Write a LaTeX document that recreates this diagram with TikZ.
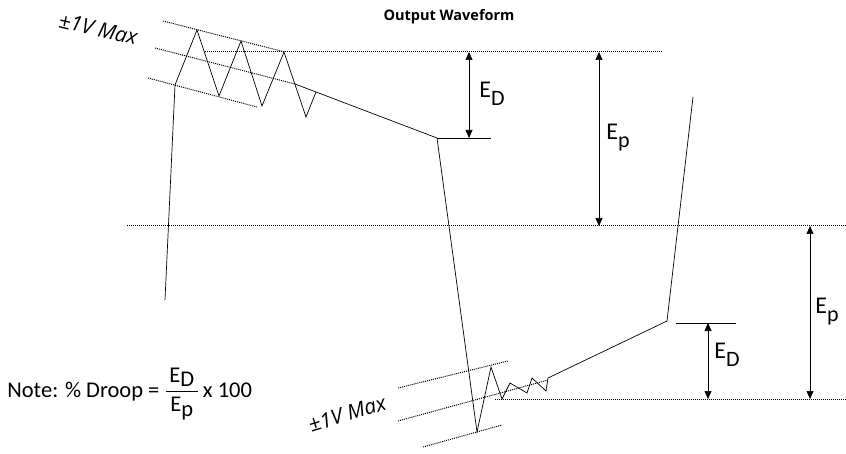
\documentclass[tikz,border=0pt]{standalone}
\usepackage{amsmath}
\usepackage{fontspec}
\setmainfont{Carlito}
\newfontfamily\titlefont{Open Sans}
\usetikzlibrary{arrows.meta}
\newcommand{\elab}[1]{{\fontsize{24}{24}\selectfont E\raisebox{-8pt}{\fontsize{22}{22}\selectfont #1}}}
\begin{document}
\begin{tikzpicture}[x=1pt, y=-1pt, line width=0.7pt,
    level/.style={densely dotted, line width=1pt},
    span/.style={{Triangle[length=8pt,width=7pt]}-{Triangle[length=8pt,width=7pt]}, line width=0.7pt},
    maxtxt/.style={font=\titlefont\itshape\fontsize{21}{21}\selectfont, inner sep=0pt}]
    \useasboundingbox (0,0) rectangle (846,454);
    \node[font=\titlefont\bfseries\fontsize{14.5}{14.5}\selectfont] (title) at (449,17) {Output Waveform};
    \coordinate (hiL) at (205,52);  \coordinate (hiR) at (663,52);
    \coordinate (midL) at (127,226); \coordinate (midR) at (846,226);
    \coordinate (loL) at (495,399);  \coordinate (loR) at (846,399);
    \draw[level] (hiL) -- (hiR);
    \draw[level] (midL) -- (midR);
    \draw[level] (loL) -- (loR);
    \begin{scope}[level]
        \draw (163,21) -- (285,52);
        \draw (155,48) -- (295,84);
        \draw (148,78) -- (257,107);
        \draw (398,388) -- (508,361);
        \draw (398,421) -- (548,380);
        \draw (423,447) -- (502,425);
    \end{scope}
    \draw (165,300) -- (175,85) -- (197,30) -- (219,96) -- (241,41) -- (262,106) -- (284,52) -- (306,117) -- (316,92);
    \draw (295,84) -- (437,138) coordinate (sag) -- (477,432) -- (491,367) -- (502,399) -- (510,383) -- (527,393) -- (532,378) -- (546,391) -- (548,378) -- (667,321) coordinate (rise) -- (693,97);
    \draw (sag) -- (491,138) coordinate (sagR);
    \draw (676,323) coordinate (riseL) -- (736,323);
    \coordinate (d1a) at (469,52);  \coordinate (d1b) at (469,138);
    \coordinate (p1a) at (599,52);  \coordinate (p1b) at (599,226);
    \coordinate (d2a) at (708,323); \coordinate (d2b) at (708,399);
    \coordinate (p2a) at (810,226); \coordinate (p2b) at (810,399);
    \draw[span] (d1a) -- (d1b);
    \draw[span] (p1a) -- (p1b);
    \draw[span] (d2a) -- (d2b);
    \draw[span] (p2a) -- (p2b);
    \node[anchor=base west, inner sep=0pt] (ed1) at (479,98) {\elab{D}};
    \node[anchor=base west, inner sep=0pt] (ep1) at (606,140) {\elab{p}};
    \node[anchor=base west, inner sep=0pt] (ed2) at (714,359) {\elab{D}};
    \node[anchor=base west, inner sep=0pt] (ep2) at (815,313) {\elab{p}};
    \node[maxtxt, rotate=-13] (max1) at (98,29) {±1V Max};
    \node[maxtxt, rotate=17] (max2) at (347,414) {±1V Max};
    \node[anchor=base west, inner sep=0pt, font=\fontsize{22.5}{22.5}\selectfont] (note) at (7,397)
        {Note: \% Droop = $\dfrac{\mbox{\,E\raisebox{-4pt}{D}\,}}{\mbox{E\raisebox{-5pt}{p}}}$\,x 100};
\end{tikzpicture}
\end{document}
